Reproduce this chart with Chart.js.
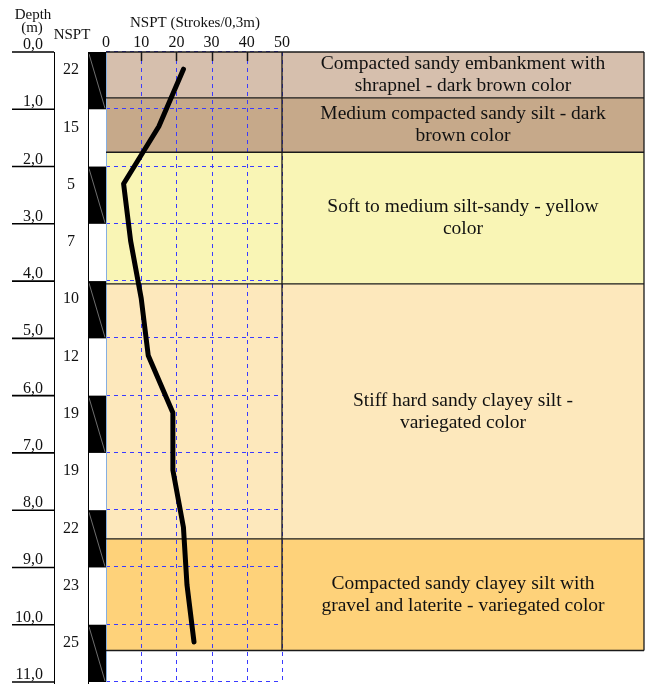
<!DOCTYPE html>
<html>
<head>
<meta charset="utf-8">
<script src="https://cdn.jsdelivr.net/npm/chart.js@4.4.1/dist/chart.umd.min.js"></script>
<style>
  html, body { margin: 0; padding: 0; background: #ffffff; }
  #wrap { width: 646px; height: 684px; position: relative; }
</style>
</head>
<body>
<div id="wrap"><canvas id="log"></canvas></div>
<script>
// SPT test depths (m) and blow counts
const testDepths = [0.3, 1.3, 2.3, 3.3, 4.3, 5.3, 6.3, 7.3, 8.3, 9.3, 10.3];
const nsptValues = [22, 15, 5, 7, 10, 12, 19, 19, 22, 23, 25];

// depth axis (m) and NSPT axis ticks
const depthTicks = [0, 1, 2, 3, 4, 5, 6, 7, 8, 9, 10, 11];
const depthTickLabels = ['0,0', '1,0', '2,0', '3,0', '4,0', '5,0', '6,0', '7,0', '8,0', '9,0', '10,0', '11,0'];
const nsptTicks = [0, 10, 20, 30, 40, 50];

// soil layers: top / bottom depth (m), fill colour, description
const layerTops = [0, 0.8, 1.75, 4.05, 8.5];
const layerBottoms = [0.8, 1.75, 4.05, 8.5, 10.45];
const layerColors = ['#d6bfad', '#c6a98a', '#f9f5b5', '#fde8bc', '#fed27a'];
const layerNames = [
  ['Compacted sandy embankment with', 'shrapnel - dark brown color'],
  ['Medium compacted sandy silt - dark', 'brown color'],
  ['Soft to medium silt-sandy - yellow', 'color'],
  ['Stiff hard sandy clayey silt -', 'variegated color'],
  ['Compacted sandy clayey silt with', 'gravel and laterite - variegated color']
];

const SERIF = '"Liberation Serif", "Times New Roman", serif';
const GRID_BLUE = '#3b3bff';
const DESC_RIGHT = 644;   // right edge of the description column
const DEPTH_LINE_X0 = 12; // depth tick lines start
const COL_NSPT_L = 54;    // left edge of NSPT column
const COL_STRIP_L = 88;   // left edge of sampler strip

function hline(ctx, x0, x1, y) { ctx.beginPath(); ctx.moveTo(x0, y); ctx.lineTo(x1, y); ctx.stroke(); }
function vline(ctx, x, y0, y1) { ctx.beginPath(); ctx.moveTo(x, y0); ctx.lineTo(x, y1); ctx.stroke(); }

const logPlugin = {
  id: 'boreholeLog',
  // layer fills and dashed grid, under the NSPT curve
  beforeDatasetsDraw(chart) {
    const ctx = chart.ctx;
    const xs = chart.scales.x, ys = chart.scales.y;
    const area = chart.chartArea;
    ctx.save();
    // layer fills
    for (let i = 0; i < layerTops.length; i++) {
      const y0 = ys.getPixelForValue(layerTops[i]);
      const y1 = ys.getPixelForValue(layerBottoms[i]);
      ctx.fillStyle = layerColors[i];
      ctx.fillRect(area.left, y0, DESC_RIGHT - area.left, y1 - y0);
    }
    // dashed grid
    ctx.strokeStyle = GRID_BLUE;
    ctx.lineWidth = 1;
    ctx.setLineDash([4, 4]);
    nsptTicks.forEach(v => {
      if (v === 0) return;
      const x = Math.round(xs.getPixelForValue(v)) + 0.5;
      vline(ctx, x, area.top, area.bottom);
    });
    depthTicks.forEach(d => {
      const y = Math.round(ys.getPixelForValue(d)) - 0.5;
      hline(ctx, area.left, area.right, y);
    });
    ctx.setLineDash([]);
    // left edge of the plot
    ctx.strokeStyle = '#86aee0';
    vline(ctx, Math.round(area.left) + 0.5, area.top, area.bottom);
    // layer outlines
    ctx.strokeStyle = '#1a1a1a';
    ctx.lineWidth = 1.3;
    const bottomAll = ys.getPixelForValue(layerBottoms[layerBottoms.length - 1]);
    const topAll = ys.getPixelForValue(layerTops[0]);
    layerTops.concat([layerBottoms[layerBottoms.length - 1]]).forEach(d => {
      const y = ys.getPixelForValue(d);
      hline(ctx, area.left, DESC_RIGHT, y);
    });
    vline(ctx, xs.getPixelForValue(50), topAll, bottomAll);
    vline(ctx, DESC_RIGHT, topAll, bottomAll);
    // short ticks along the top edge
    ctx.lineWidth = 1.5;
    nsptTicks.forEach(v => {
      if (v === 0 || v === 50) return;
      const x = Math.round(xs.getPixelForValue(v)) + 0.5;
      vline(ctx, x, area.top, area.top + 9);
    });
    ctx.restore();
  },
  // depth column, NSPT column, sampler strip, headings and layer descriptions
  afterDraw(chart) {
    const ctx = chart.ctx;
    const xs = chart.scales.x, ys = chart.scales.y;
    const area = chart.chartArea;
    ctx.save();
    ctx.fillStyle = '#111';
    ctx.textBaseline = 'alphabetic';

    // sampler strip: alternating black / white metres
    for (let i = 0; i < depthTicks.length - 1; i++) {
      const y0 = ys.getPixelForValue(depthTicks[i]);
      const y1 = ys.getPixelForValue(depthTicks[i + 1]);
      if (i % 2 === 0) {
        ctx.fillStyle = '#000';
        ctx.fillRect(COL_STRIP_L, y0, area.left - COL_STRIP_L, y1 - y0);
        ctx.strokeStyle = '#8a8a8a';
        ctx.lineWidth = 0.8;
        ctx.beginPath();
        ctx.moveTo(COL_STRIP_L + 1, y0 + 2);
        ctx.lineTo(area.left - 1, y1 - 1);
        ctx.stroke();
      }
    }
    ctx.strokeStyle = '#000';
    ctx.lineWidth = 1;
    vline(ctx, COL_STRIP_L + 0.5, area.top, chart.height);
    vline(ctx, COL_NSPT_L + 0.5, area.top, chart.height);

    // depth ticks and labels
    ctx.lineWidth = 1.6;
    ctx.font = '16px ' + SERIF;
    ctx.textAlign = 'right';
    ctx.fillStyle = '#111';
    depthTicks.forEach((d, i) => {
      const y = ys.getPixelForValue(d);
      hline(ctx, DEPTH_LINE_X0, COL_NSPT_L, y);
      ctx.fillText(depthTickLabels[i], 43, y - 3);
    });

    // NSPT values beside each test
    ctx.textAlign = 'center';
    ctx.textBaseline = 'middle';
    testDepths.forEach((d, i) => {
      ctx.fillText(String(nsptValues[i]), 71, ys.getPixelForValue(d) + 1);
    });

    // NSPT axis labels on top
    ctx.textBaseline = 'alphabetic';
    ctx.font = '16px ' + SERIF;
    nsptTicks.forEach(v => {
      ctx.fillText(String(v), xs.getPixelForValue(v), 47);
    });
    ctx.font = '15px ' + SERIF;
    ctx.fillText('NSPT (Strokes/0,3m)', 195, 27);
    ctx.fillText('NSPT', 72, 39);
    ctx.fillText('Depth', 33, 19);
    ctx.fillText('(m)', 32, 32);

    // layer descriptions
    ctx.font = '19.5px ' + SERIF;
    ctx.textBaseline = 'middle';
    const cx = (xs.getPixelForValue(50) + DESC_RIGHT) / 2;
    for (let i = 0; i < layerNames.length; i++) {
      const yc = (ys.getPixelForValue(layerTops[i]) + ys.getPixelForValue(layerBottoms[i])) / 2;
      const lines = layerNames[i];
      const lh = 22;
      lines.forEach((t, k) => {
        ctx.fillText(t, cx, yc + (k - (lines.length - 1) / 2) * lh);
      });
    }
    ctx.restore();
  }
};

const points = testDepths.map((d, i) => ({ x: nsptValues[i], y: d }));

new Chart(document.getElementById('log'), {
  type: 'scatter',
  data: {
    datasets: [
      {
        data: points,
        showLine: true,
        borderColor: '#000',
        borderWidth: 5,
        borderCapStyle: 'round',
        borderJoinStyle: 'round',
        tension: 0,
        pointRadius: 0,
        pointHoverRadius: 0
      },
      {
        data: points,
        showLine: true,
        borderColor: '#6b6b6b',
        borderWidth: 0.8,
        tension: 0,
        pointRadius: 0,
        pointHoverRadius: 0
      }
    ]
  },
  options: {
    responsive: true,
    maintainAspectRatio: false,
    animation: false,
    events: [],
    layout: { padding: { left: 106, right: 364, top: 52, bottom: 2 } },
    plugins: { legend: { display: false }, tooltip: { enabled: false } },
    scales: {
      x: { type: 'linear', min: 0, max: 50, display: false },
      y: { type: 'linear', min: 0, max: 11, reverse: true, display: false }
    }
  },
  plugins: [logPlugin]
});
</script>
</body>
</html>
